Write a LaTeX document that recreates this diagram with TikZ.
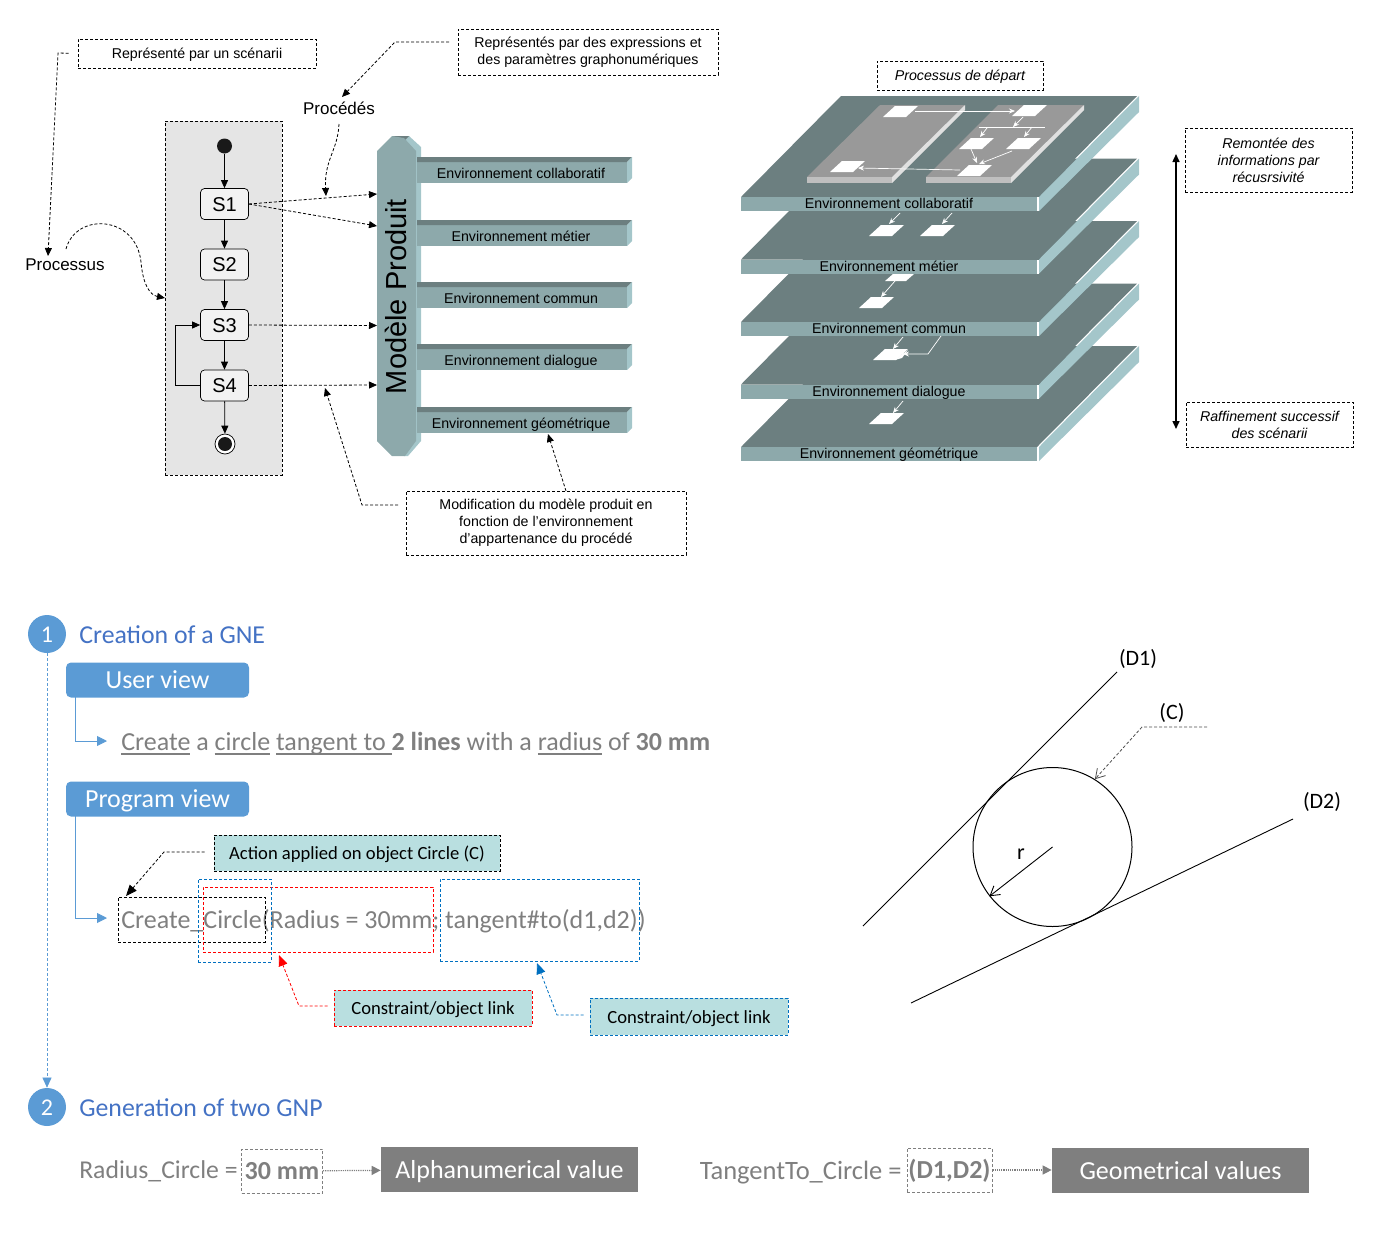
\documentclass[tikz,border=0pt]{standalone}
\usepackage{fontspec}
\setmainfont{Liberation Sans}
\newfontfamily\calibri{Carlito}
\usepackage{xcolor}
\usetikzlibrary{arrows.meta}

\definecolor{platTop}{HTML}{6C7F80}
\definecolor{platFront}{HTML}{8DA9AB}
\definecolor{platSide}{HTML}{A4C6CA}
\definecolor{bleuVue}{HTML}{5B9BD5}
\definecolor{bleuTitre}{HTML}{4472C4}
\definecolor{grisTexte}{HTML}{7F7F7F}
\definecolor{bleuNote}{HTML}{B9DFE0}
\definecolor{bleuLien}{HTML}{0070C0}

\newsavebox\soulbox
\newcommand{\souligne}[1]{\sbox\soulbox{#1}\usebox\soulbox\llap{\rule[-4.5pt]{\wd\soulbox}{1.4pt}}}

\tikzset{
	tiret/.style={dash pattern=on 3pt off 2pt},
	note/.style={draw,tiret,line width=0.8pt,inner sep=0,align=center,execute at begin node={\rule{0pt}{13pt}},font=\fontsize{14.2}{17}\selectfont},
	lien/.style={tiret,line width=0.8pt,-{Triangle[length=8pt,width=7pt]}},
	etat/.style={draw,rounded corners=4,fill=black!5,minimum width=48,minimum height=31,inner sep=0,text height=14.5,text depth=0,font=\fontsize{20}{24}\selectfont},
	flux/.style={line width=0.8pt,-{Triangle[length=8pt,width=7pt]}},
	label/.style={inner sep=0,text height=10.5,text depth=0,font=\fontsize{14.2}{17}\selectfont},
	titre/.style={anchor=west,inner sep=0,text height=17,text depth=0,text=bleuTitre,font=\calibri\fontsize{25.8}{30}\selectfont},
	rond/.style={circle,fill=bleuVue,text=white,minimum size=38,inner sep=0,text height=16,text depth=0,font=\calibri\fontsize{24}{28}\selectfont},
	vue/.style={rounded corners=5,fill=bleuVue,text=white,minimum width=183,minimum height=35,inner sep=0,text height=17,text depth=0,font=\calibri\fontsize{26}{30}\selectfont},
	code/.style={inner sep=0,text=grisTexte,text height=18,text depth=0,font=\calibri\fontsize{26}{30}\selectfont},
	cadre/.style={draw,tiret,line width=0.9pt,inner sep=0},
	bulle/.style={fill=bleuNote,draw,tiret,line width=1pt,inner sep=0,text height=13,text depth=0,font=\calibri\fontsize{18.6}{23}\selectfont},
	sombre/.style={fill=grisTexte,text=white,minimum width=257,minimum height=45,inner sep=0,text height=17,text depth=0,font=\calibri\fontsize{26}{30}\selectfont},
	fleche/.style={white,line width=0.7pt,-{Stealth[length=6pt,width=5pt]}},
	bleuFlux/.style={bleuVue,line width=0.9pt,-{Triangle[length=10pt,width=10pt]}},
	grisLien/.style={grisTexte,densely dotted,line width=1.2pt,-{Triangle[length=9pt,width=9pt]}},
	geo/.style={inner sep=0,font=\calibri\fontsize{22}{25}\selectfont},
}

\begin{document}
\begin{tikzpicture}[x=1pt,y=-1pt,line width=0.7pt]
\useasboundingbox (0,0) rectangle (1392,1245);

\node[note,minimum width=238,minimum height=29] (noteScenario) at (197,53.5) {Représenté par un scénarii};
\node[note,minimum width=260,minimum height=46] (noteExpr) at (588,52) {Représentés par des expressions et\\des paramètres graphonumériques};
\node[note,minimum width=280,minimum height=64] (noteModif) at (546,523) {Modification du modèle produit en\\fonction de l’environnement\\d’appartenance du procédé};
\node[inner sep=0,font=\fontsize{17}{20}\selectfont] (processus) at (65,265) {Processus};
\node[inner sep=0,font=\fontsize{17}{20}\selectfont] (procedes) at (339,108) {Procédés};

\node[draw,tiret,line width=0.8pt,fill=black!10,minimum width=117,minimum height=354,inner sep=0] (scenario) at (223.5,298) {};
\node[circle,fill=black!90,minimum size=15,inner sep=0] (debut) at (224.5,146) {};
\node[etat] (s1) at (224.5,204) {S1};
\node[etat] (s2) at (224.5,264.5) {S2};
\node[etat] (s3) at (224.5,325) {S3};
\node[etat] (s4) at (224.5,385.5) {S4};
\node[circle,draw,fill=white,minimum size=20,inner sep=0] (finOut) at (225,444) {};
\node[circle,fill=black!90,minimum size=14,inner sep=0] (fin) at (225,444) {};
\draw[flux] (debut)--(s1);
\draw[flux] (s1)--(s2);
\draw[flux] (s2)--(s3);
\draw[flux] (s3)--(s4);
\draw[flux] (s4)--(finOut);
\coordinate (boucleA) at (175,385.5);
\coordinate (boucleB) at (175,325);
\draw[flux] (s4.west)--(boucleA)--(boucleB)--(s3.west);

\fill[platSide] (404,138)--(409,136)--(421,147)--(421,441)--(408,456)--(404,456)--cycle;
\fill[platTop] (392,136)--(409,136)--(404,141)--(392,141)--cycle;
\fill[platFront] (377,151)--(392,136)--(404,138)--(416,151)--(416,441)--(405,456)--(392,456)--(377,441)--cycle;
\node[rotate=90,inner sep=0,font=\fontsize{29}{34}\selectfont] (modele) at (396,296.5) {Modèle Produit};

\foreach \y/\lab in {157/Environnement collaboratif,220/Environnement métier,282/Environnement commun,344/Environnement dialogue,407/Environnement géométrique}{
	\fill[platFront] (417,\y+4)--(627,\y+4)--(627,\y+26)--(417,\y+26)--cycle;
	\fill[platTop] (417,\y)--(632,\y)--(627,\y+5)--(417,\y+5)--cycle;
	\fill[platSide] (627,\y+5)--(632,\y)--(632,\y+21)--(627,\y+26)--cycle;
	\node[label] at (521,\y+16) {\lab};
}

\coordinate (mpA) at (377,194);
\coordinate (mpB) at (377,226);
\coordinate (mpC) at (377,325.5);
\coordinate (mpD) at (377,385);
\draw[lien] (s1.east)--(mpA);
\draw[lien] (s1.east)--(mpB);
\draw[lien] (s3.east)--(mpC);
\draw[lien] (s4.east)--(mpD);

\coordinate (coudeScenario) at (58,53);
\coordinate (hautProcessus) at (48,256);
\draw[lien,shorten <=9pt] (noteScenario.west)--(coudeScenario)--(hautProcessus);
\coordinate (coudeExpr) at (395,42);
\coordinate (hautProcedes) at (342,97);
\coordinate (departExpr) at (449,42);
\draw[lien] (departExpr)--(coudeExpr)--(hautProcedes);
\coordinate (basProcedes) at (339,124);
\coordinate (surLien) at (326,196);
\draw[lien] (basProcedes) .. controls (338,150) and (324,160) .. (surLien);
\coordinate (departProcessus) at (66,249);
\coordinate (bordScenario) at (165,298);
\draw[lien] (departProcessus) .. controls (76,212) and (136,215) .. (141,262) .. controls (143,285) and (150,295) .. (bordScenario);
\coordinate (topModif) at (566,491);
\coordinate (barreGeo) at (548,434);
\draw[lien] (topModif)--(barreGeo);
\coordinate (departModif) at (398,505);
\coordinate (coudeModif) at (362,505);
\coordinate (surS4) at (325,388);
\draw[lien] (departModif)--(coudeModif)--(surS4);

\node[note,minimum width=166,minimum height=29,font=\itshape\fontsize{14.2}{17}\selectfont] (noteDepart) at (960,75.5) {Processus de départ};
\node[note,minimum width=167,minimum height=64,execute at begin node={},font=\itshape\fontsize{14.2}{17}\selectfont] (noteRemontee) at (1268.5,160) {Remontée des\\informations par\\récusrsivité};
\node[note,minimum width=167,minimum height=45,execute at begin node={},font=\itshape\fontsize{14.2}{17}\selectfont] (noteRaffine) at (1269.5,424.5) {Raffinement successif\\des scénarii};
\coordinate (rechHaut) at (1176,154);
\coordinate (rechBas) at (1176,429);
\draw[line width=1.5pt,{Triangle[length=8pt,width=7pt]}-{Triangle[length=8pt,width=7pt]}] (rechHaut)--(rechBas);

\foreach \y/\lab in {447/Environnement géométrique,384.5/Environnement dialogue,322/Environnement commun,259.5/Environnement métier,197/Environnement collaboratif}{
	\fill[platTop] (741,\y)--(841,\y-101)--(1137,\y-101)--(1037,\y)--cycle;
	\fill[platFront] (741,\y)--(1037,\y)--(1037,\y+14)--(741,\y+14)--cycle;
	\fill[platSide] (1039,\y)--(1139,\y-101)--(1139,\y-85)--(1039,\y+14)--cycle;
	\fill[white] (1037,\y)--(1039,\y)--(1039,\y+14)--(1037,\y+14)--cycle;
	\node[label,text=black] at (889,\y+6.5) {\lab};
}

\foreach \xa/\xb/\xc/\xd in {807/892/965/880,926/1011/1084/998}{
	\fill[black!40] (\xa,177)--(\xb,177)--(\xc,105)--(\xd,105)--cycle;
	\fill[black!25] (\xa,177)--(\xb,177)--(\xb,183)--(\xa,183)--cycle;
	\fill[black!12] (\xb,177)--(\xc,105)--(\xc,110)--(\xb,183)--cycle;
}

\foreach \px/\py in {883/117,1012/116,959/149,1006/149,957/176,830/172,869/236,920/236,859/308,873/360,869/424}{
	\fill[white] (\px,\py)--++(23,0)--++(12,-11)--++(-23,0)--cycle;
}
\fill[white] (885,281)--(906,281)--(914,274)--(893,274)--cycle;
\fill[white] (901,355)--(908,350)--(902,358)--(895,360)--cycle;

\foreach \n/\ax/\ay/\bx/\by in {ab/915/111/1015/111,bc/1023/117/1013/127,cc/987/128/980/137,cd/1032/127/1024/137,ce/971/149/977/163,de/1012/151/979/164,ef/960/170/858/168,g/900/213/889/224,h/952/213/942/224,ij/895/281/881/297,k/903/337/893/349,l/903/401/893/413}{
	\coordinate (dep\n) at (\ax,\ay);
	\coordinate (arr\n) at (\bx,\by);
	\draw[fleche] (dep\n)--(arr\n);
}
\coordinate (barreA) at (979,127);
\coordinate (barreB) at (1045,127);
\draw[white,line width=0.9pt] (barreA)--(barreB);
\coordinate (retourA) at (941,336);
\coordinate (retourB) at (928,354);
\coordinate (retourC) at (903,354);
\draw[fleche] (retourA)--(retourB)--(retourC);

\node[rond] (un) at (47,634) {1};
\node[rond] (deux) at (47,1107) {2};
\node[titre] (titreUn) at (79,635) {Creation of a GNE};
\node[titre] (titreDeux) at (79,1108) {Generation of two GNP};
\draw[bleuVue,dash pattern=on 3pt off 2pt,line width=0.6pt,-{Triangle[length=10pt,width=9pt]}] (un)--(deux);

\node[vue] (user) at (157.5,680) {User view};
\node[vue] (program) at (157.5,799) {Program view};
\node[code,anchor=west] (phrase) at (121,741) {\souligne{Create} a \souligne{circle} \souligne{tangent to }\textbf{2 lines} with a \souligne{radius} of \textbf{30 mm}};
\node[code,anchor=west] (appel) at (121,919) {Create\_Circle(Radius = 30mm; tangent\#to(d1,d2))};
\coordinate (userBas) at (75,697);
\coordinate (userCoude) at (75,741);
\coordinate (userFin) at (107,741);
\draw[bleuFlux] (userBas)--(userCoude)--(userFin);
\coordinate (progBas) at (75,816);
\coordinate (progCoude) at (75,918);
\coordinate (progFin) at (107,918);
\draw[bleuFlux] (progBas)--(progCoude)--(progFin);

\node[cadre,black,minimum width=147,minimum height=45] (cadreAction) at (191.5,919.5) {};
\node[cadre,red,minimum width=230,minimum height=65] (cadreRouge) at (318,919.5) {};
\node[cadre,bleuLien,minimum width=73,minimum height=83] (cadreBleuA) at (234.5,920.5) {};
\node[cadre,bleuLien,minimum width=199,minimum height=82] (cadreBleuB) at (539.5,920) {};

\node[bulle,minimum width=286,minimum height=36] (action) at (357,853) {Action applied on object Circle (C)};
\node[bulle,draw=red,minimum width=198,minimum height=36] (lienRouge) at (433,1008) {Constraint/object link};
\node[bulle,draw=bleuLien,minimum width=198,minimum height=37] (lienBleu) at (689,1016.5) {Constraint/object link};
\coordinate (coudeAction) at (164,852);
\coordinate (tipAction) at (126,896);
\draw[lien,shorten <=9pt,-{Triangle[length=11pt,width=9pt]}] (action.west |- coudeAction)--(coudeAction)--(tipAction);
\coordinate (coudeRouge) at (299,1006);
\coordinate (tipRouge) at (279,955);
\draw[lien,red,shorten <=6pt,-{Triangle[length=11pt,width=9pt]}] (lienRouge.west |- coudeRouge)--(coudeRouge)--(tipRouge);
\coordinate (coudeBleu) at (557,1015);
\coordinate (tipBleu) at (537,963);
\draw[lien,bleuLien,shorten <=6pt,-{Triangle[length=11pt,width=9pt]}] (lienBleu.west |- coudeBleu)--(coudeBleu)--(tipBleu);

\node[code,anchor=east,text height=17,font=\calibri\fontsize{25.7}{30}\selectfont] (radiusEq) at (238,1170) {Radius\_Circle =};
\node[cadre,grisTexte,minimum width=81,minimum height=44,text height=17,text depth=0] (radiusVal) at (282,1171) {\calibri\fontsize{26}{30}\selectfont\bfseries 30 mm};
\node[sombre] (alpha) at (509.5,1169.5) {Alphanumerical value};
\draw[grisLien] (radiusVal)--(alpha);
\node[code,anchor=east,text height=17,font=\calibri\fontsize{26.5}{30}\selectfont] (tangentEq) at (902,1171) {TangentTo\_Circle =};
\node[cadre,grisTexte,minimum width=85,minimum height=44,text height=17,text depth=0] (tangentVal) at (949.5,1170) {\calibri\fontsize{26}{30}\selectfont\bfseries (D1,D2)};
\node[sombre] (geomet) at (1180.5,1170.5) {Geometrical values};
\draw[grisLien] (tangentVal.east)--(geomet.west |- tangentVal.east);

\node[circle,draw,line width=1pt,minimum size=159,inner sep=0] (cercle) at (1052.5,847) {};
\coordinate (d1A) at (863,926);
\coordinate (d1B) at (1117,672);
\coordinate (d2A) at (911,1003);
\coordinate (d2B) at (1293,819);
\draw[line width=0.9pt] (d1A)--(d1B);
\draw[line width=0.9pt] (d2A)--(d2B);
\node[geo] (labD1) at (1138,659) {(D1)};
\node[geo] (labD2) at (1322,802) {(D2)};
\node[geo] (labC) at (1172,713) {(C)};
\node[geo] (labR) at (1021,854) {r};
\draw[line width=0.9pt,-{Straight Barb[length=9pt,width=11pt]}] (cercle.center)--(cercle.218);
\coordinate (cBout) at (1207,727);
\coordinate (cCoude) at (1142,727);
\draw[tiret,black!70,line width=0.8pt,-{Straight Barb[length=9pt,width=11pt]}] (cBout)--(cCoude)--(cercle.58);

\end{tikzpicture}
\end{document}
